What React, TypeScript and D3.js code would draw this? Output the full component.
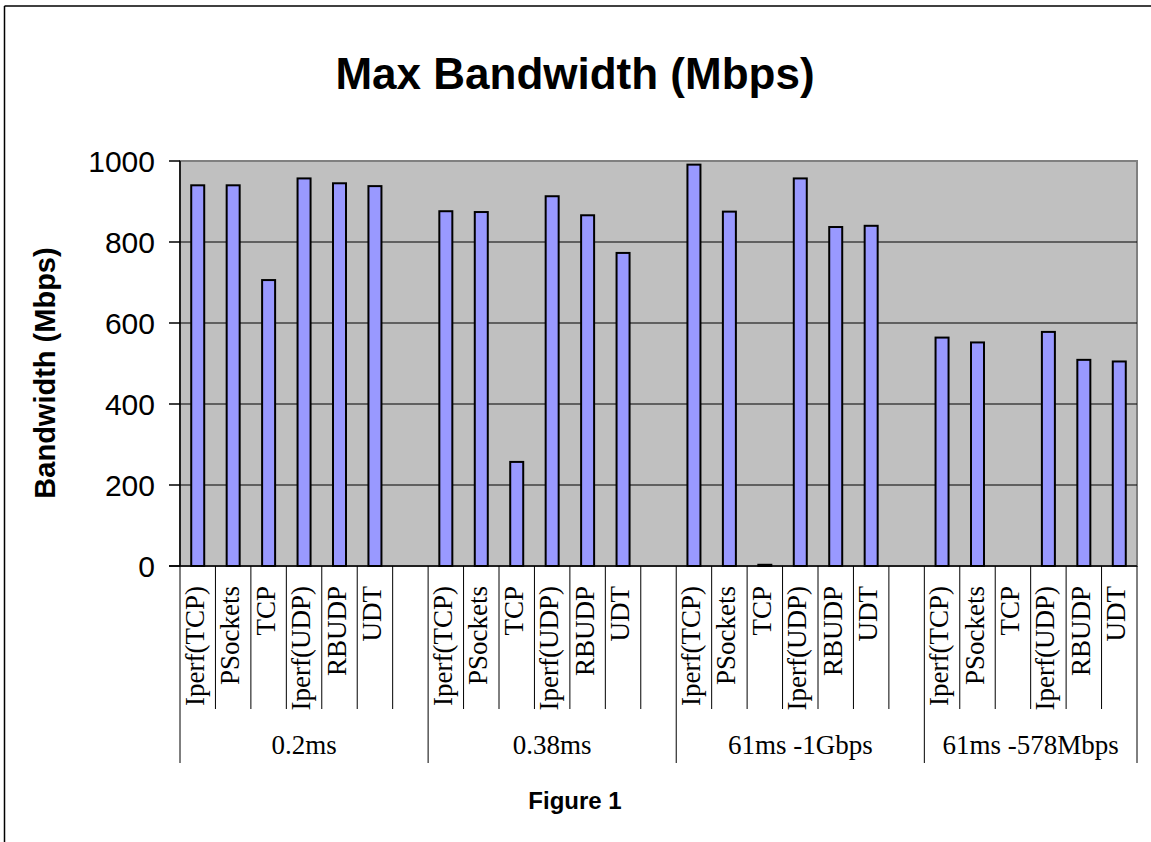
import React from "react";
import * as d3 from "d3";

// Maximum achieved bandwidth per transfer tool, for four network scenarios
const protocols = ["Iperf(TCP)", "PSockets", "TCP", "Iperf(UDP)", "RBUDP", "UDT"];
const scenarios = ["0.2ms", "0.38ms", "61ms -1Gbps", "61ms -578Mbps"];
const bw0_2ms = [940, 940, 706, 957, 945, 938];
const bw0_38ms = [876, 874, 257, 913, 866, 773];
const bw61ms1Gbps = [991, 875, 3, 957, 837, 840];
const bw61ms578Mbps = [564, 552, 0, 578, 509, 505];
const yTicks = [0, 200, 400, 600, 800, 1000];

const seriesByScenario = [bw0_2ms, bw0_38ms, bw61ms1Gbps, bw61ms578Mbps];

const W = 1151;
const H = 842;
const plot = { left: 180, right: 1137, top: 161, bottom: 566 };

const SANS = "'Liberation Sans', Arial, sans-serif";
const SERIF = "'Liberation Serif', 'Times New Roman', serif";

type Slot = { key: string; group: number; label: string; value: number | null };

// Each scenario gets its six tools plus an empty spacer slot (except the last)
const slots: Slot[] = [];
scenarios.forEach((_, g) => {
  protocols.forEach((p, i) => {
    slots.push({ key: `${g}-${i}`, group: g, label: p, value: seriesByScenario[g][i] });
  });
  if (g < scenarios.length - 1) slots.push({ key: `${g}-gap`, group: g, label: "", value: null });
});

export default function App() {
  const x = d3
    .scaleBand<string>()
    .domain(slots.map((s) => s.key))
    .range([plot.left, plot.right])
    .paddingInner(0)
    .paddingOuter(0);
  const y = d3.scaleLinear().domain([0, 1000]).range([plot.bottom, plot.top]);
  const bw = x.bandwidth();
  const barW = 13;

  const groupBounds = scenarios.map((_, g) => {
    const keys = slots.filter((s) => s.group === g).map((s) => s.key);
    const x0 = x(keys[0])!;
    const x1 = x(keys[keys.length - 1])! + bw;
    return { x0, x1 };
  });

  const subTickBottom = 709;
  const groupTickBottom = 763;

  return (
    <svg
      width={W}
      height={H}
      style={{ position: "absolute", left: 0, top: 0, background: "#fff" }}
    >
      {/* chart frame */}
      <line x1={4.5} y1={6} x2={W} y2={6} stroke="#000" strokeWidth={1.5} />
      <line x1={4.5} y1={6} x2={4.5} y2={H} stroke="#000" strokeWidth={1.5} />

      <text
        x={575}
        y={89}
        textAnchor="middle"
        fontFamily={SANS}
        fontWeight="bold"
        fontSize={44}
      >
        Max Bandwidth (Mbps)
      </text>

      {/* plot area */}
      <rect
        x={plot.left}
        y={plot.top}
        width={plot.right - plot.left}
        height={plot.bottom - plot.top}
        fill="#C0C0C0"
        stroke="#808080"
        strokeWidth={2}
      />
      {yTicks
        .filter((t) => t > 0 && t < 1000)
        .map((t) => (
          <line
            key={`g${t}`}
            x1={plot.left}
            x2={plot.right}
            y1={y(t)}
            y2={y(t)}
            stroke="#000"
            strokeWidth={1}
          />
        ))}

      {/* bars */}
      {slots
        .filter((s) => s.value !== null && (s.value as number) > 0)
        .map((s) => {
          const cx = x(s.key)! + bw / 2;
          const v = s.value as number;
          return (
            <rect
              key={`b${s.key}`}
              x={cx - barW / 2}
              y={y(v)}
              width={barW}
              height={y(0) - y(v)}
              fill="#9999FF"
              stroke="#000"
              strokeWidth={2}
            />
          );
        })}

      {/* value axis */}
      <line x1={plot.left} x2={plot.left} y1={plot.top} y2={plot.bottom} stroke="#000" strokeWidth={1.5} />
      {yTicks.map((t) => (
        <g key={`t${t}`}>
          <line x1={plot.left - 11} x2={plot.left} y1={y(t)} y2={y(t)} stroke="#000" strokeWidth={1.5} />
          <text
            x={155}
            y={y(t)}
            dy="0.36em"
            textAnchor="end"
            fontFamily={SANS}
            fontSize={30}
          >
            {t}
          </text>
        </g>
      ))}
      <text
        transform={`translate(55, 373) rotate(-90)`}
        textAnchor="middle"
        fontFamily={SANS}
        fontWeight="bold"
        fontSize={29}
      >
        Bandwidth (Mbps)
      </text>

      {/* category axis */}
      <line x1={plot.left - 11} x2={plot.right} y1={plot.bottom} y2={plot.bottom} stroke="#000" strokeWidth={1.5} />
      {slots.map((s) => {
        const xl = x(s.key)!;
        const isGroupStart = s.key.endsWith("-0");
        return (
          <line
            key={`st${s.key}`}
            x1={xl}
            x2={xl}
            y1={plot.bottom}
            y2={isGroupStart ? groupTickBottom : subTickBottom}
            stroke="#000"
            strokeWidth={1}
          />
        );
      })}
      <line
        x1={plot.right}
        x2={plot.right}
        y1={plot.bottom}
        y2={groupTickBottom}
        stroke="#000"
        strokeWidth={1}
      />
      {slots
        .filter((s) => s.label !== "")
        .map((s) => {
          const cx = x(s.key)! + bw / 2;
          return (
            <text
              key={`l${s.key}`}
              transform={`translate(${cx + 6}, 586) rotate(-90)`}
              textAnchor="end"
              fontFamily={SERIF}
              fontSize={27}
            >
              {s.label}
            </text>
          );
        })}
      {groupBounds.map((gb, g) => (
        <text
          key={`gl${g}`}
          x={(gb.x0 + gb.x1) / 2}
          y={754}
          textAnchor="middle"
          fontFamily={SERIF}
          fontSize={27}
        >
          {scenarios[g]}
        </text>
      ))}

      <text
        x={575}
        y={809}
        textAnchor="middle"
        fontFamily={SANS}
        fontWeight="bold"
        fontSize={24}
      >
        Figure 1
      </text>
    </svg>
  );
}
